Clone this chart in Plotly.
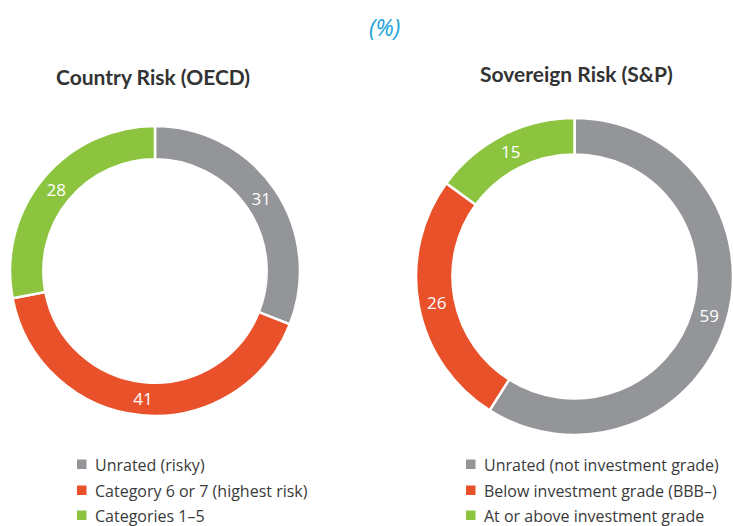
import plotly.graph_objects as go

W, H = 733, 526

oecd_labels = ["Unrated (risky)", "Category 6 or 7 (highest risk)", "Categories 1–5"]
oecd_values = [31, 41, 28]
sp_labels = ["Unrated (not investment grade)", "Below investment grade (BBB–)", "At or above investment grade"]
sp_values = [59, 26, 15]
colors = ["#939598", "#e9512b", "#8cc43f"]

def px(x0, x1):
    return [x0 / W, min(x1 / W, 1.0)]

def py(ytop, ybot):
    return [1 - ybot / H, 1 - ytop / H]

fig = go.Figure()
fig.add_trace(go.Pie(
    labels=oecd_labels, values=oecd_values, sort=False, direction="clockwise",
    hole=0.77, marker=dict(colors=colors, line=dict(color="white", width=2.5)),
    textinfo="value", textposition="inside", insidetextorientation="horizontal",
    textfont=dict(color="white", size=17, family="Open Sans"),
    domain=dict(x=px(10, 300), y=py(126, 416)), showlegend=False,
    hoverinfo="label+value",
))
fig.add_trace(go.Pie(
    labels=sp_labels, values=sp_values, sort=False, direction="clockwise",
    hole=0.77, marker=dict(colors=colors, line=dict(color="white", width=2.5)),
    textinfo="value", textposition="inside", insidetextorientation="horizontal",
    textfont=dict(color="white", size=17, family="Open Sans"),
    domain=dict(x=px(416, 733), y=py(118, 435)), showlegend=False,
    hoverinfo="label+value",
))

# legends built as annotations + square swatches
legfont = dict(family="Open Sans", size=16, color="#3a3a3a")
row_y = [464.5, 490.5, 515.5]
annotations = []
shapes = []
for lx, labels in [(77, oecd_labels), (466, sp_labels)]:
    for i, lab in enumerate(labels):
        yc = row_y[i]
        shapes.append(dict(type="rect", xref="paper", yref="paper",
                           x0=lx / W, x1=(lx + 9.5) / W,
                           y0=1 - (yc + 4.5) / H, y1=1 - (yc - 5) / H,
                           fillcolor=colors[i], line=dict(width=0)))
        annotations.append(dict(text=lab, x=(lx + 16) / W, y=1 - yc / H,
                                xref="paper", yref="paper", xanchor="left", yanchor="middle",
                                showarrow=False, font=legfont))

annotations += [
    dict(text="<i>(%)</i>", x=384 / W, y=1 - 27 / H, xref="paper", yref="paper",
         xanchor="center", yanchor="middle",
         showarrow=False, font=dict(family="Open Sans", size=23, color="#1ca3d8")),
    dict(text="<b>Country Risk (OECD)</b>", x=153 / W, y=1 - 76 / H, xref="paper", yref="paper",
         xanchor="center", yanchor="middle",
         showarrow=False, font=dict(family="Lato", size=21, color="#333333")),
    dict(text="<b>Sovereign Risk (S&P)</b>", x=576 / W, y=1 - 74 / H, xref="paper", yref="paper",
         xanchor="center", yanchor="middle",
         showarrow=False, font=dict(family="Lato", size=21, color="#333333")),
]

fig.update_layout(
    width=W, height=H, margin=dict(l=0, r=0, t=0, b=0),
    paper_bgcolor="white", plot_bgcolor="white",
    showlegend=False,
    annotations=annotations, shapes=shapes,
)
fig.write_html("out.html", config={"displayModeBar": False},
               post_script="document.body.style.margin='0px';")
